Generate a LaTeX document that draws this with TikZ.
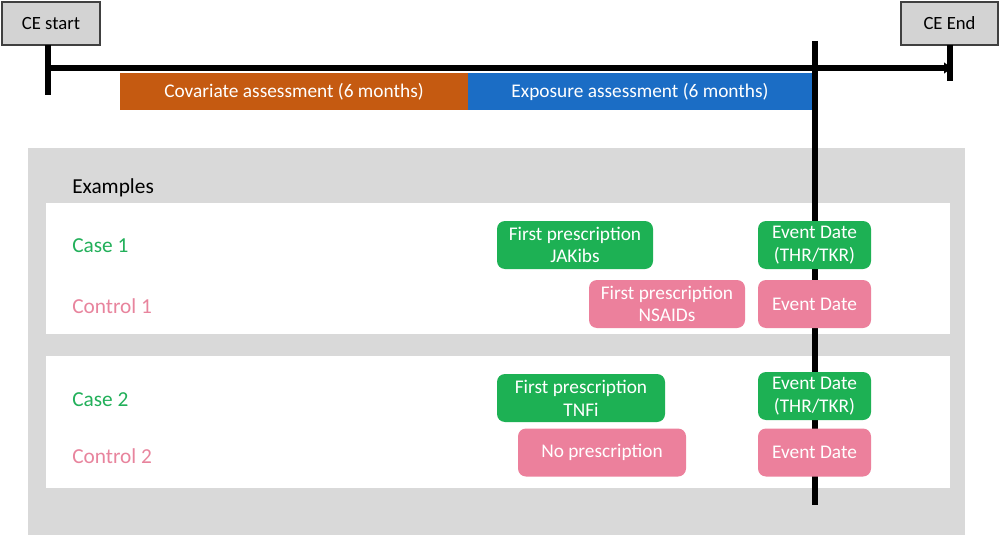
\documentclass[tikz,border=0pt]{standalone}
\usepackage{fontspec}
\setmainfont{Carlito}
\usetikzlibrary{arrows.meta}
\definecolor{boxgreen}{HTML}{1DB154}
\definecolor{boxpink}{HTML}{EC809C}
\definecolor{txtgreen}{HTML}{22B05A}
\definecolor{txtpink}{HTML}{E8849D}
\definecolor{barorange}{HTML}{C55A11}
\definecolor{barblue}{HTML}{1B6DC5}
\definecolor{panelgray}{HTML}{D9D9D9}
\definecolor{cegray}{HTML}{D3D3D3}
\begin{document}
\begin{tikzpicture}[x=0.75pt,y=-0.75pt,
  every node/.style={font=\fontsize{14.5pt}{17pt}\selectfont},
  ebox/.style={rounded corners=6pt, text=white, align=center, inner sep=0pt, minimum height=36pt},
  gbox/.style={ebox, fill=boxgreen},
  pbox/.style={ebox, fill=boxpink},
  cebox/.style={draw=black!75, line width=1pt, fill=cegray, inner sep=0pt, minimum height=32.25pt, font=\fontsize{14pt}{17pt}\selectfont},
  bar/.style={text=white, inner sep=0pt, minimum height=27.75pt},
  thick line/.style={line width=4.5pt, black},
  tick line/.style={line width=4pt, black},
  rowlabel/.style={anchor=west, inner sep=0pt, font=\fontsize{16pt}{19pt}\selectfont}]
\useasboundingbox (0,0) rectangle (1000,535);
% panels
\fill[panelgray] (28,148) rectangle (965,535);
\fill[white] (46,203) rectangle (950,334);
\fill[white] (46,356) rectangle (950,488);
% bars
\node[bar, fill=barorange, minimum width=261pt] (cov) at (294,91.5) {Covariate assessment (6 months)};
\node[bar, fill=barblue, minimum width=258pt] (exp) at (640,91.5) {Exposure assessment (6 months)};
% CE boxes
\node[cebox, minimum width=73.5pt] (start) at (51,23.5) {CE start};
\node[cebox, minimum width=72.75pt] (end) at (949.5,23.5) {CE End};
\coordinate (s1) at (48,45);
\coordinate (s2) at (48,95);
\coordinate (e1) at (950,45);
\coordinate (e2) at (950,81);
\coordinate (l1) at (46,68);
\coordinate (l2) at (952,68);
\coordinate (v1) at (815,41);
\coordinate (v2) at (815,505);
\draw[tick line] (s1) -- (s2);
\draw[tick line] (e1) -- (e2);
\draw[thick line, -{Triangle[length=6pt,width=8pt]}] (l1) -- (l2);
\draw[thick line] (v1) -- (v2);
% labels
\node[anchor=base west, inner sep=0pt, font=\fontsize{16pt}{19pt}\selectfont] (ex) at (72,193) {Examples};
\node[rowlabel, text=txtgreen] (c1) at (72,246) {Case 1};
\node[rowlabel, text=txtpink] (k1) at (72,306) {Control 1};
\node[rowlabel, text=txtgreen] (c2) at (72,400) {Case 2};
\node[rowlabel, text=txtpink] (k2) at (72,456) {Control 2};
% boxes
\node[gbox, minimum width=117pt] (jak) at (575,245) {First prescription\\JAKibs};
\node[gbox, minimum width=84.75pt] (ev1) at (814.5,245) {Event Date\\(THR/TKR)};
\node[pbox, minimum width=117pt] (nsa) at (667,304) {First prescription\\NSAIDs};
\node[pbox, minimum width=84.75pt] (ev1c) at (814.5,304) {Event Date};
\node[gbox, minimum width=126pt] (tnf) at (581,398) {First prescription\\TNFi};
\node[gbox, minimum width=84.75pt] (ev2) at (814.5,396) {Event Date\\(THR/TKR)};
\node[pbox, minimum width=126pt] (nop) at (602,452.5) {No prescription};
\node[pbox, minimum width=84.75pt] (ev2c) at (814.5,452.5) {Event Date};
\end{tikzpicture}
\end{document}
